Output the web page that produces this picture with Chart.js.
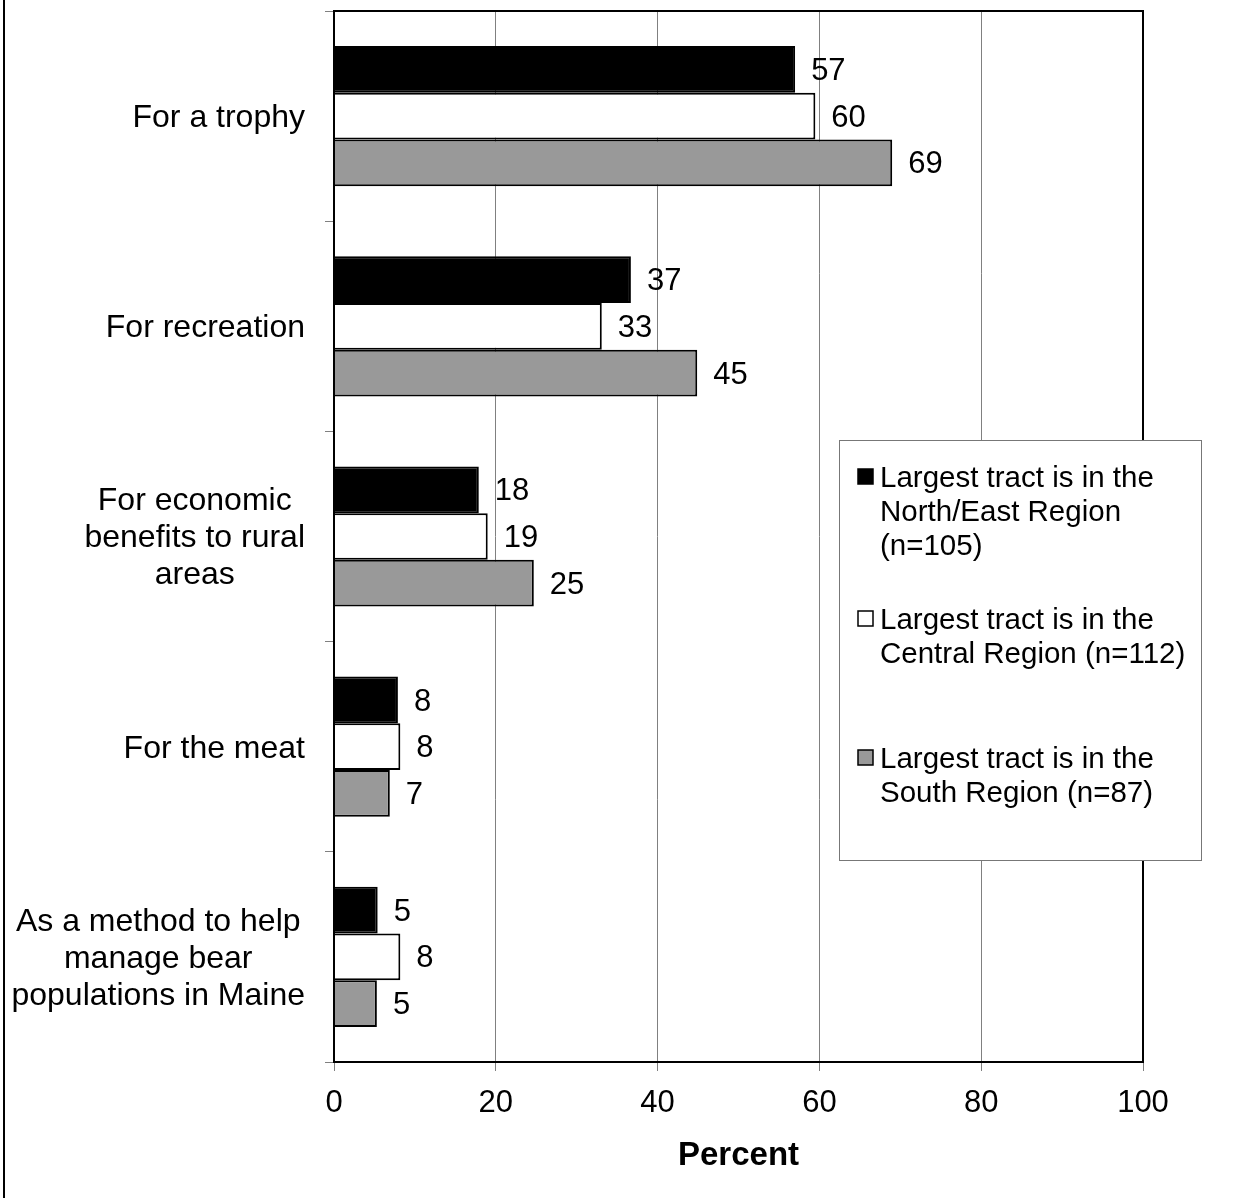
<!DOCTYPE html>
<html>
<head>
<meta charset="utf-8">
<script src="https://cdn.jsdelivr.net/npm/chart.js@4/dist/chart.umd.min.js"></script>
<style>
  body { margin: 0; background: #fff; }
  #wrap { width: 1247px; height: 1198px; position: relative; }
</style>
</head>
<body>
<div id="wrap"><canvas id="chart"></canvas></div>
<script>
// categories (each one is a list of lines)
var categories = [
  ['For a trophy'],
  ['For recreation'],
  ['For economic', 'benefits to rural', 'areas'],
  ['For the meat'],
  ['As a method to help', 'manage bear', 'populations in Maine']
];

// percent values
var northEast = [57.0, 36.7, 17.9, 7.9, 5.4];
var central = [59.5, 33.1, 19.0, 8.2, 8.2];
var south = [69.0, 44.9, 24.7, 6.9, 5.3];

var seriesNames = [
  ['Largest tract is in the', 'North/East Region', '(n=105)'],
  ['Largest tract is in the', 'Central Region (n=112)'],
  ['Largest tract is in the', 'South Region (n=87)']
];
var seriesColors = ['#000000', '#ffffff', '#999999'];

var xTicks = [0, 20, 40, 60, 80, 100];

var FONT = "'Liberation Sans', Arial, Helvetica, sans-serif";

// value labels at the end of each bar
var valueLabels = {
  id: 'valueLabels',
  afterDatasetsDraw: function(chart) {
    var ctx = chart.ctx;
    ctx.save();
    ctx.font = '31px ' + FONT;
    ctx.fillStyle = '#000';
    ctx.textAlign = 'left';
    ctx.textBaseline = 'middle';
    chart.data.datasets.forEach(function(ds, i) {
      chart.getDatasetMeta(i).data.forEach(function(bar, j) {
        ctx.fillText(Math.round(ds.data[j]), bar.x + 16, bar.y + 2);
      });
    });
    ctx.restore();
  }
};

// plot frame, category labels, legend box, outer line
var decorations = {
  id: 'decorations',
  afterDraw: function(chart) {
    var ctx = chart.ctx, a = chart.chartArea;
    ctx.save();

    // plot frame
    ctx.strokeStyle = '#000';
    ctx.lineWidth = 2;
    ctx.strokeRect(a.left, a.top, a.right - a.left, a.bottom - a.top);

    // outer left line
    ctx.beginPath();
    ctx.moveTo(4, 0);
    ctx.lineTo(4, chart.height);
    ctx.stroke();

    // category labels: block right aligned, lines centred
    var yScale = chart.scales.y;
    ctx.font = '32px ' + FONT;
    ctx.fillStyle = '#000';
    ctx.textBaseline = 'middle';
    ctx.textAlign = 'center';
    var lh = 37;
    categories.forEach(function(lines, i) {
      var y = yScale.getPixelForTick(i);
      var w = 0;
      lines.forEach(function(t) { w = Math.max(w, ctx.measureText(t).width); });
      var cx = a.left - 29 - w / 2;
      var y0 = y - (lines.length - 1) * lh / 2;
      lines.forEach(function(t, k) { ctx.fillText(t, cx, y0 + k * lh + 2); });
    });

    // legend
    var bx = a.left + 505, by = a.top + 429, bw = 362, bh = 420;
    ctx.fillStyle = '#fff';
    ctx.fillRect(bx, by, bw, bh);
    ctx.strokeStyle = '#777';
    ctx.lineWidth = 1;
    ctx.strokeRect(bx + 0.5, by + 0.5, bw, bh);
    var itemY = [37, 179, 318];
    ctx.font = '29.5px ' + FONT;
    ctx.textAlign = 'left';
    seriesNames.forEach(function(lines, i) {
      var y = by + itemY[i];
      ctx.fillStyle = seriesColors[i];
      ctx.fillRect(bx + 19, y - 8, 15, 15);
      ctx.strokeStyle = '#000';
      ctx.lineWidth = 1.5;
      ctx.strokeRect(bx + 19, y - 8, 15, 15);
      ctx.fillStyle = '#000';
      lines.forEach(function(t, k) { ctx.fillText(t, bx + 41, y + k * 34 + 2); });
    });

    ctx.restore();
  }
};

new Chart(document.getElementById('chart'), {
  type: 'bar',
  data: {
    labels: categories,
    datasets: [
      { label: seriesNames[0].join(' '), data: northEast, backgroundColor: seriesColors[0] },
      { label: seriesNames[1].join(' '), data: central, backgroundColor: seriesColors[1] },
      { label: seriesNames[2].join(' '), data: south, backgroundColor: seriesColors[2] }
    ]
  },
  options: {
    indexAxis: 'y',
    responsive: true,
    maintainAspectRatio: false,
    animation: false,
    datasets: {
      bar: {
        borderColor: '#000',
        borderWidth: 2,
        borderSkipped: 'start',
        categoryPercentage: 0.667,
        barPercentage: 1.0
      }
    },
    layout: { padding: { top: 11, right: 104, left: 0, bottom: 0 } },
    plugins: {
      legend: { display: false },
      tooltip: { enabled: false }
    },
    scales: {
      x: {
        min: 0,
        max: 100,
        afterFit: function(scale) { scale.height = 136; },
        afterBuildTicks: function(scale) {
          scale.ticks = xTicks.map(function(v) { return { value: v }; });
        },
        border: { display: false },
        grid: { color: '#808080', lineWidth: 1, tickLength: 9, tickColor: '#808080' },
        ticks: { color: '#000', font: { family: FONT, size: 31 }, padding: 14 },
        title: {
          display: true,
          text: 'Percent',
          color: '#000',
          font: { family: FONT, size: 33, weight: 'bold' },
          padding: { top: 0, bottom: 22 }
        }
      },
      y: {
        afterFit: function(scale) { scale.width = 334; },
        border: { display: false },
        grid: { offset: true, drawOnChartArea: false, tickLength: 9, color: '#808080' },
        ticks: { display: false }
      }
    }
  },
  plugins: [valueLabels, decorations]
});
</script>
</body>
</html>
